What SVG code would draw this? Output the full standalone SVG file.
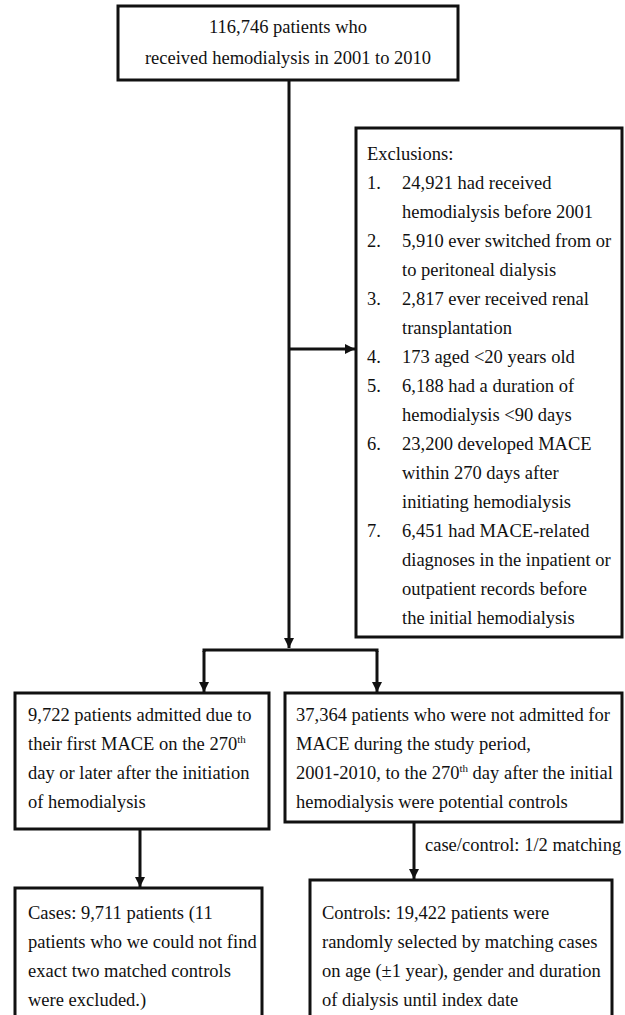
<svg xmlns="http://www.w3.org/2000/svg" width="625" height="1015" viewBox="0 0 625 1015">
<style>
.box{fill:#fff;stroke:#111;stroke-width:3}
.ln{fill:none;stroke:#111;stroke-width:3}
text{font-family:"Liberation Serif","Times New Roman",serif;font-size:18.5px;fill:#111}
.c{text-anchor:middle}
.sup{font-size:11px}
</style>
<defs>
<marker id="ah" viewBox="0 0 10 10" refX="10" refY="5" markerWidth="10" markerHeight="10" markerUnits="userSpaceOnUse" orient="auto">
<path d="M0,0 L10,5 L0,10 Z" fill="#111"/>
</marker>
</defs>
<rect width="625" height="1015" fill="#fff"/>
<g id="connectors">
<line class="ln" x1="289" y1="80" x2="289" y2="648" marker-end="url(#ah)"/>
<line class="ln" x1="289" y1="349" x2="355" y2="349" marker-end="url(#ah)"/>
<polyline class="ln" points="204,652 204,650 377,650 377,652"/>
<line class="ln" x1="204" y1="651" x2="204" y2="692" marker-end="url(#ah)"/>
<line class="ln" x1="377" y1="651" x2="377" y2="692" marker-end="url(#ah)"/>
<line class="ln" x1="140" y1="829" x2="140" y2="887" marker-end="url(#ah)"/>
<line class="ln" x1="414" y1="822" x2="414" y2="879" marker-end="url(#ah)"/>
<text x="425" y="851">case/control: 1/2 matching</text>
</g>
<g id="start">
<rect class="box" x="118" y="6" width="340" height="74"/>
<text class="c" x="288" y="33">116,746 patients who</text>
<text class="c" x="288" y="64">received hemodialysis in 2001 to 2010</text>
</g>
<g id="exclusions">
<rect class="box" x="356" y="128" width="266" height="509"/>
<text x="367" y="160">Exclusions:</text>
<text x="367" y="189">1.</text><text x="402" y="189">24,921 had received</text>
<text x="402" y="218">hemodialysis before 2001</text>
<text x="367" y="247">2.</text><text x="402" y="247">5,910 ever switched from or</text>
<text x="402" y="276">to peritoneal dialysis</text>
<text x="367" y="305">3.</text><text x="402" y="305">2,817 ever received renal</text>
<text x="402" y="334">transplantation</text>
<text x="367" y="363">4.</text><text x="402" y="363">173 aged &lt;20 years old</text>
<text x="367" y="392">5.</text><text x="402" y="392">6,188 had a duration of</text>
<text x="402" y="421">hemodialysis &lt;90 days</text>
<text x="367" y="450">6.</text><text x="402" y="450">23,200 developed MACE</text>
<text x="402" y="479">within 270 days after</text>
<text x="402" y="508">initiating hemodialysis</text>
<text x="367" y="537">7.</text><text x="402" y="537">6,451 had MACE-related</text>
<text x="402" y="566">diagnoses in the inpatient or</text>
<text x="402" y="595">outpatient records before</text>
<text x="402" y="624">the initial hemodialysis</text>
</g>
<g id="cases-pool">
<rect class="box" x="15" y="693" width="254" height="136"/>
<text x="28" y="721">9,722 patients admitted due to</text>
<text x="28" y="750">their first MACE on the 270<tspan class="sup" dy="-7">th</tspan></text>
<text x="28" y="779">day or later after the initiation</text>
<text x="28" y="808">of hemodialysis</text>
</g>
<g id="controls-pool">
<rect class="box" x="285" y="693" width="337" height="129"/>
<text x="296" y="721">37,364 patients who were not admitted for</text>
<text x="296" y="750">MACE during the study period,</text>
<text x="296" y="779">2001-2010, to the 270<tspan class="sup" dy="-7">th</tspan><tspan dy="7"> day after the initial</tspan></text>
<text x="296" y="808">hemodialysis were potential controls</text>
</g>
<g id="cases">
<rect class="box" x="15" y="888" width="247" height="140"/>
<text x="28" y="919">Cases: 9,711 patients (11</text>
<text x="28" y="948">patients who we could not find</text>
<text x="28" y="977">exact two matched controls</text>
<text x="28" y="1006">were excluded.)</text>
</g>
<g id="controls">
<rect class="box" x="310" y="880" width="302" height="148"/>
<text x="322" y="919">Controls: 19,422 patients were</text>
<text x="322" y="948">randomly selected by matching cases</text>
<text x="322" y="977">on age (±1 year), gender and duration</text>
<text x="322" y="1006">of dialysis until index date</text>
</g>
</svg>
